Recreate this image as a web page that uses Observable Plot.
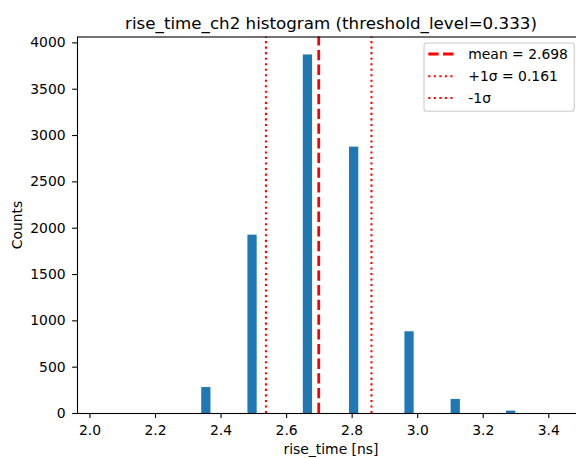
<!DOCTYPE html>
<html><head><meta charset="utf-8">
<script src="https://cdn.jsdelivr.net/npm/d3@7"></script>
<script src="https://cdn.jsdelivr.net/npm/@observablehq/plot@0.6"></script>
<style>
html,body{margin:0;padding:0;background:#fff;}
#chart{width:576px;height:458px;overflow:hidden;position:relative;background:#fff;}
#chart svg{max-width:none !important;height:458px !important;width:586px !important;display:block;}
</style></head><body><div id="chart"></div>
<script>
// Histogram bins (left edges, ns) and counts
const binStarts = [2.341, 2.482, 2.651, 2.792, 2.961, 3.102, 3.271];
const counts = [280, 1925, 3870, 2875, 882, 152, 26];
const binWidth = 0.0282;
// Statistics
const meanValue = 2.698;
const sigmaValue = 0.161;
// Axes
const xTicks = [2.0, 2.2, 2.4, 2.6, 2.8, 3.0, 3.2, 3.4];
const yTicks = [0, 500, 1000, 1500, 2000, 2500, 3000, 3500, 4000];
const xDomain = [1.962, 3.512];
const yDomain = [0, 4063.5];
const titleText = "rise_time_ch2 histogram (threshold_level=0.333)";
const xLabel = "rise_time [ns]";
const yLabel = "Counts";

const bins = binStarts.map((s, i) => ({x1: s, x2: s + binWidth, count: counts[i]}));
const legendItems = [
  {label: `mean = ${meanValue.toFixed(3)}`, dash: "10.3,4.4", width: 2.78},
  {label: `+1σ = ${sigmaValue.toFixed(3)}`, dash: "2.08,3.44", width: 2.08},
  {label: "-1σ", dash: "2.08,3.44", width: 2.08}
];

const W = 586, H = 458;
const svg = Plot.plot({
  width: W,
  height: H,
  marginLeft: 77,
  marginRight: 1,
  marginTop: 36.5,
  marginBottom: 45,
  style: {fontFamily: "DejaVu Sans", fontSize: "13.9px", color: "black", background: "white", maxWidth: "none"},
  x: {domain: xDomain},
  y: {domain: yDomain},
  marks: [
    Plot.rectY(bins, {x1: "x1", x2: "x2", y: "count", fill: "#1f77b4", inset: 0}),
    Plot.ruleX([meanValue], {y1: yDomain[0], y2: yDomain[1], stroke: "red", strokeWidth: 2.78, strokeDasharray: "10.3,4.4"}),
    Plot.ruleX([meanValue + sigmaValue, meanValue - sigmaValue], {y1: yDomain[0], y2: yDomain[1], stroke: "red", strokeWidth: 2.08, strokeDasharray: "2.08,3.44"}),
    Plot.frame({stroke: "black", strokeWidth: 1.1}),
    Plot.axisX({ticks: xTicks, tickFormat: d3.format(".1f"), tickSize: 4.9, tickPadding: 6.8, label: null, strokeWidth: 1.1}),
    Plot.axisY({ticks: yTicks, tickFormat: d3.format("d"), tickSize: 4.9, tickPadding: 7, label: null, strokeWidth: 1.1})
  ]
});

const s = d3.select(svg);
const cx = (77 + (W - 1)) / 2;
s.append("text").attr("x", cx).attr("y", 29).attr("text-anchor", "middle")
  .style("font-size", "16.7px").attr("fill", "black").text(titleText);
s.append("text").attr("x", cx).attr("y", 454.3).attr("text-anchor", "middle")
  .style("font-size", "13.9px").attr("fill", "black").text(xLabel);
s.append("text").attr("transform", "translate(22,225) rotate(-90)").attr("text-anchor", "middle")
  .style("font-size", "13.9px").attr("fill", "black").text(yLabel);

// Legend
const lg = s.append("g");
lg.append("rect").attr("x", 424).attr("y", 43).attr("width", 150.3).attr("height", 68.3)
  .attr("rx", 2.8).attr("fill", "white").attr("fill-opacity", 0.8)
  .attr("stroke", "#cccccc").attr("stroke-width", 1.1);
const rowY = [54, 76.3, 98];
legendItems.forEach((d, i) => {
  lg.append("line").attr("x1", 428.3).attr("x2", 456).attr("y1", rowY[i]).attr("y2", rowY[i])
    .attr("stroke", "red").attr("stroke-width", d.width).attr("stroke-dasharray", d.dash);
  lg.append("text").attr("x", 468.3).attr("y", rowY[i] + 5).attr("fill", "black")
    .attr("text-anchor", "start").style("font-size", "13.9px").text(d.label);
});

document.getElementById("chart").appendChild(svg);
</script></body></html>
